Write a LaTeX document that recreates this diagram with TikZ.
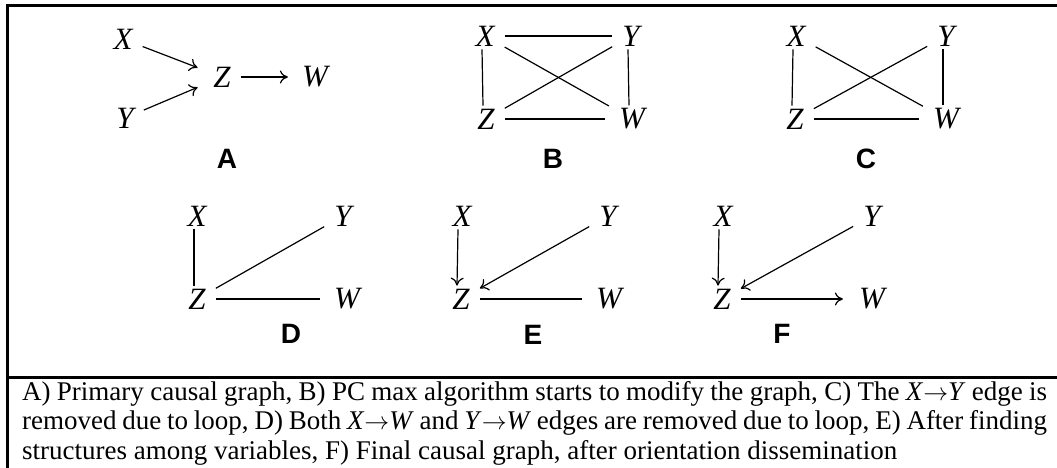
\documentclass[tikz,border=0pt]{standalone}
\usepackage{fontspec}
\setmainfont{Liberation Serif}
\setsansfont{Liberation Sans}
\usetikzlibrary{arrows.meta}
\tikzset{
  var/.style={font=\fontsize{31}{31}\selectfont\itshape, inner xsep=10pt, inner ysep=3pt},
  panel/.style={font=\fontsize{28}{28}\selectfont\sffamily\bfseries},
  edge/.style={line width=1.2pt},
  arc/.style={edge, -{To[length=8pt,width=13pt]}},
  frame/.style={line width=3pt},
}

\begin{document}
\begin{tikzpicture}[x=1pt,y=-1pt]
\clip (0,0) rectangle (1057,468);
% frame and separator
\draw[frame] (7,6) rectangle (1080,490);
\draw[frame] (7,377) -- (1080,377);

% A
\node[var] (xa) at (123,39) {X};
\node[var] (ya) at (125,118) {Y};
\node[var] (za) at (222,77) {Z};
\node[var] (wa) at (315,77) {W};
\node[panel] (la) at (227,159) {A};
\draw[arc,shorten >=6pt] (xa) -- (za);
\draw[arc,shorten >=6pt] (ya) -- (za);
\draw[arc,shorten >=4pt] (za) -- (wa);

% B
\node[var] (xb) at (485,36) {X};
\node[var] (yb) at (631,36) {Y};
\node[var] (zb) at (486,119) {Z};
\node[var] (wb) at (632,119) {W};
\node[panel] (lb) at (553,159) {B};
\draw[edge] (xb) -- (yb);
\draw[edge] ([xshift=-3pt]xb.south) -- ([xshift=-3pt]zb.north);
\draw[edge] ([xshift=-3pt]yb.south) -- ([xshift=-3pt]wb.north);
\draw[edge,shorten >=4pt] (zb) -- (wb);
\draw[edge] (xb) -- (wb);
\draw[edge] (zb) -- (yb);

% C
\node[var] (xc) at (796,36) {X};
\node[var] (yc) at (946,36) {Y};
\node[var] (zc) at (795,119) {Z};
\node[var] (wc) at (946,119) {W};
\node[panel] (lc) at (866,159) {C};
\draw[edge] ([xshift=-3pt]xc.south) -- ([xshift=-3pt]zc.north);
\draw[edge] ([xshift=-3pt]yc.south) -- ([xshift=-3pt]wc.north);
\draw[edge,shorten >=4pt] (zc) -- (wc);
\draw[edge] (xc) -- (wc);
\draw[edge] (zc) -- (yc);

% D
\node[var] (xd) at (197,216) {X};
\node[var] (yd) at (343,216) {Y};
\node[var] (zd) at (197,299) {Z};
\node[var] (wd) at (347,299) {W};
\node[panel] (ld) at (291,334) {D};
\draw[edge] ([xshift=-3pt]xd.south) -- ([xshift=-3pt]zd.north);
\draw[edge] (zd) -- (yd);
\draw[edge,shorten >=4pt] (zd) -- (wd);

% E
\node[var] (xe) at (462,216) {X};
\node[var] (ye) at (608,216) {Y};
\node[var] (ze) at (461,299) {Z};
\node[var] (we) at (609,299) {W};
\node[panel] (le) at (533,335) {E};
\draw[arc] ([xshift=-4pt]xe.south) -- ([xshift=-4pt]ze.north);
\draw[arc] (ye) -- (ze);
\draw[edge,shorten >=4pt] (ze) -- (we);

% F
\node[var] (xf) at (723,216) {X};
\node[var] (yf) at (872,216) {Y};
\node[var] (zf) at (722,299) {Z};
\node[var] (wf) at (872,299) {W};
\node[panel] (lf) at (782,334) {F};
\draw[arc] ([xshift=-4pt]xf.south) -- ([xshift=-4pt]zf.north);
\draw[arc] (yf) -- (zf);
\draw[arc,shorten >=6pt] (zf) -- (wf);

% caption
\node[anchor=base west, inner sep=0pt, text width=1025pt, align=justify,
  font=\fontsize{27}{29.5}\selectfont] (cap) at (22,400)
  {A) Primary causal graph, B) PC max algorithm starts to modify the graph, C) The \textit{X}$\rightarrow$\textit{Y} edge is\linebreak
  removed due to loop, D) Both \textit{X}$\rightarrow$\textit{W} and \textit{Y}$\rightarrow$\textit{W} edges are removed due to loop, E) After finding\linebreak
  structures among variables, F) Final causal graph, after orientation dissemination};
\end{tikzpicture}
\end{document}
